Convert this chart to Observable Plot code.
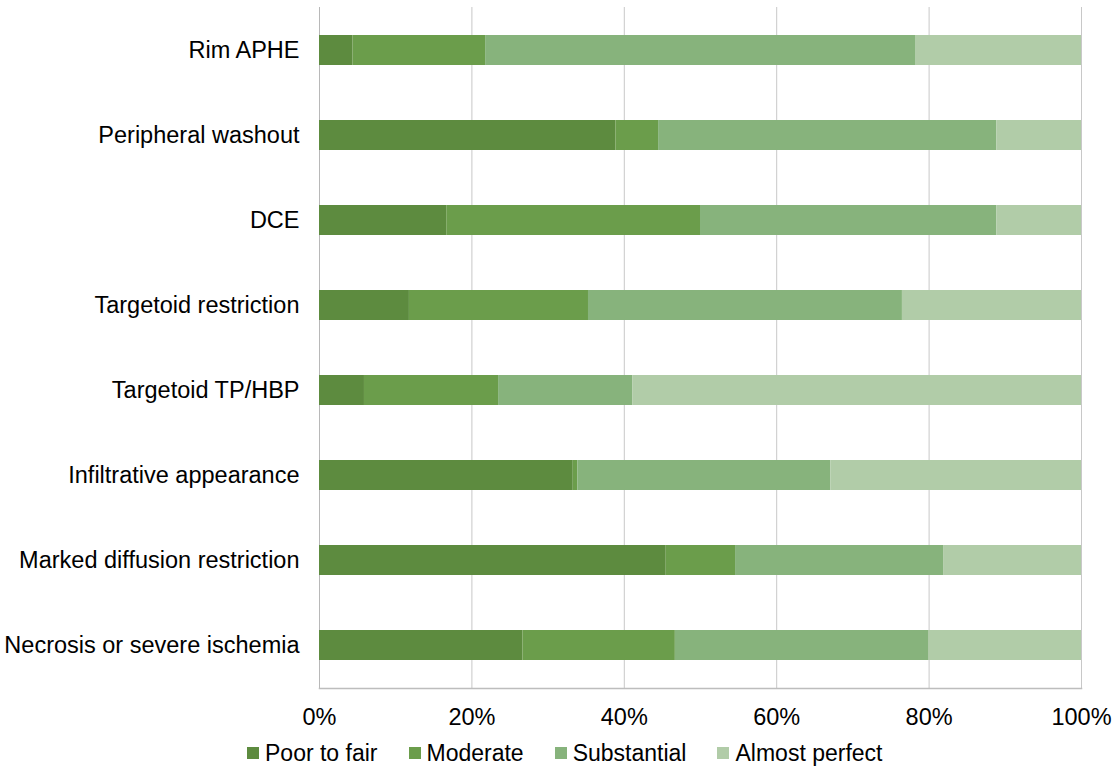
<!DOCTYPE html>
<html><head><meta charset="utf-8">
<script src="https://cdn.jsdelivr.net/npm/d3@7"></script>
<script src="https://cdn.jsdelivr.net/npm/@observablehq/plot@0.6"></script>
<style>
body{margin:0;background:#fff;font-family:"Liberation Sans",Arial,sans-serif;}
#legend{display:flex;align-items:center;height:36px;padding-left:247px;font-size:23px;color:#000;}
#legend .item{display:flex;align-items:center;margin-right:31px;}
#legend .sw{width:12px;height:12px;margin-right:6px;}
</style>
</head><body><div id="chart"></div><div id="legend"></div><script>
const categories = ["Rim APHE","Peripheral washout","DCE","Targetoid restriction","Targetoid TP/HBP","Infiltrative appearance","Marked diffusion restriction","Necrosis or severe ischemia"];
const levels = ["Poor to fair","Moderate","Substantial","Almost perfect"];
const poorToFair    = [4.4, 38.9, 16.7, 11.8, 5.9, 33.3, 45.5, 26.7];
const moderate      = [17.4, 5.6, 33.3, 23.5, 17.6, 0.6, 9.1, 20.0];
const substantial   = [56.5, 44.4, 38.9, 41.2, 17.6, 33.2, 27.3, 33.3];
const almostPerfect = [21.7, 11.1, 11.1, 23.5, 58.9, 32.9, 18.1, 20.0];
const colors = ["#5d8b3f", "#6b9d4b", "#87b37c", "#b1cca8"];
const xTicks = [0, 20, 40, 60, 80, 100];

const series = [poorToFair, moderate, substantial, almostPerfect];
const data = [];
categories.forEach((c, i) => {
  levels.forEach((l, j) => data.push({category: c, level: l, value: series[j][i]}));
});

const plot = Plot.plot({
  width: 1114, height: 735,
  marginLeft: 319, marginRight: 33, marginTop: 7, marginBottom: 47,
  style: {fontFamily: "'Liberation Sans', Arial, sans-serif", fontSize: "23.5px", color: "#000", background: "#fff"},
  x: {domain: [0, 100], label: null},
  y: {domain: categories, paddingInner: 0.647, paddingOuter: 0.3235, label: null},
  color: {domain: levels, range: colors},
  marks: [
    Plot.gridX(xTicks, {stroke: "#c8c8c8", strokeOpacity: 1, strokeWidth: 1}),
    Plot.ruleX([0], {stroke: "#b8b8b8", strokeWidth: 1}),
    Plot.barX(data, {x: "value", y: "category", fill: "level", order: null}),
    Plot.frame({anchor: "bottom", stroke: "#bdbdbd", strokeWidth: 1.5}),
    Plot.axisX(xTicks, {tickFormat: d => d + "%", tickSize: 0, tickPadding: 20, fontSize: 23.5, label: null}),
    Plot.axisY({tickSize: 0, tickPadding: 20, fontSize: 23.5, label: null})
  ]
});
document.getElementById("chart").appendChild(plot);

const lg = document.getElementById("legend");
levels.forEach((l, j) => {
  const it = document.createElement("div");
  it.className = "item";
  const sw = document.createElement("span");
  sw.className = "sw";
  sw.style.background = colors[j];
  const tx = document.createElement("span");
  tx.textContent = l;
  it.appendChild(sw); it.appendChild(tx);
  lg.appendChild(it);
});
</script></body></html>
